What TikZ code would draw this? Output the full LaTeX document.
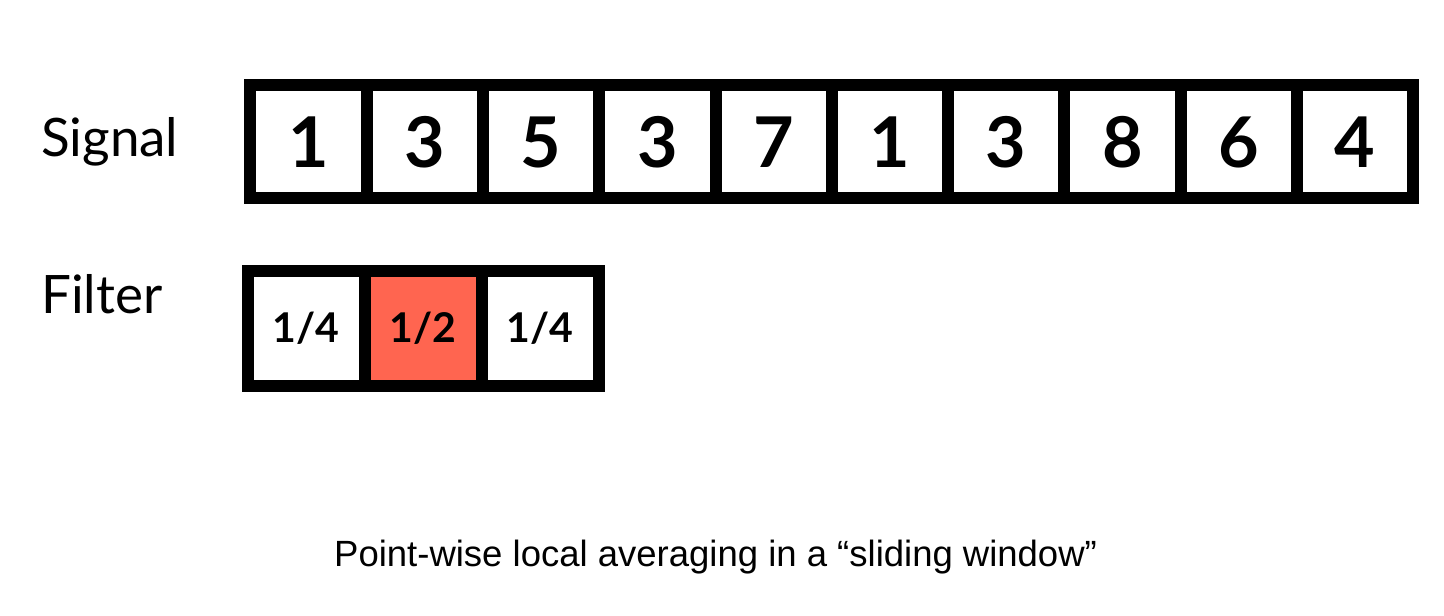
\documentclass[tikz,border=0pt]{standalone}
\usepackage{fontspec}
\setmainfont{Liberation Sans}
\newfontfamily\labfont{Lato}
\newfontfamily\numfont{Lato Bold}
\definecolor{filtred}{RGB}{255,101,80}
\begin{document}
\begin{tikzpicture}[x=1pt,y=-1pt,
  cellbox/.style={draw=black,line width=12pt,inner sep=0pt,outer sep=0pt,fill=white},
  sigcell/.style={cellbox,minimum width=116.3pt,minimum height=113.3pt},
  filcell/.style={cellbox,minimum width=117pt,minimum height=115pt},
  bignum/.style={font=\numfont\fontsize{70}{70}\selectfont,inner sep=0pt,anchor=base},
  fracnum/.style={font=\numfont\fontsize{41}{41}\selectfont,inner sep=0pt,anchor=base},
  rowlab/.style={font=\labfont\fontsize{53}{53}\selectfont,inner sep=0pt,anchor=base west},
  captxt/.style={font=\fontsize{36.5}{36.5}\selectfont,inner sep=0pt,anchor=base west}]
\useasboundingbox (0,0) rectangle (1444,616);
% Signal row
\foreach \v [count=\i] in {1,3,5,3,7,1,3,8,6,4}{
  \node[sigcell] (s\i) at ({250.3+116.3*(\i-0.5)},141.65) {};
  \node[bignum] (n\i) at ({250.3+116.3*(\i-0.5)},167.7) {\v};
}
% Filter row
\node[filcell] (f1) at ({247.5+117*0.5},328.75) {};
\node[filcell,fill=filtred] (f2) at ({247.5+117*1.5},328.75) {};
\node[filcell] (f3) at ({247.5+117*2.5},328.75) {};
\node[fracnum] (w1) at (f1.center) [yshift=-14pt] {1/4};
\node[fracnum] (w2) at (f2.center) [yshift=-14pt] {1/2};
\node[fracnum] (w3) at (f3.center) [yshift=-14pt] {1/4};
% Labels
\node[rowlab] (lsig) at (41,156.7) {Signal};
\node[rowlab] (lfil) at (41,313.3) {Filter};
\node[captxt] (cap) at (334,566.7) {Point-wise local averaging in a “sliding window”};
\end{tikzpicture}
\end{document}
